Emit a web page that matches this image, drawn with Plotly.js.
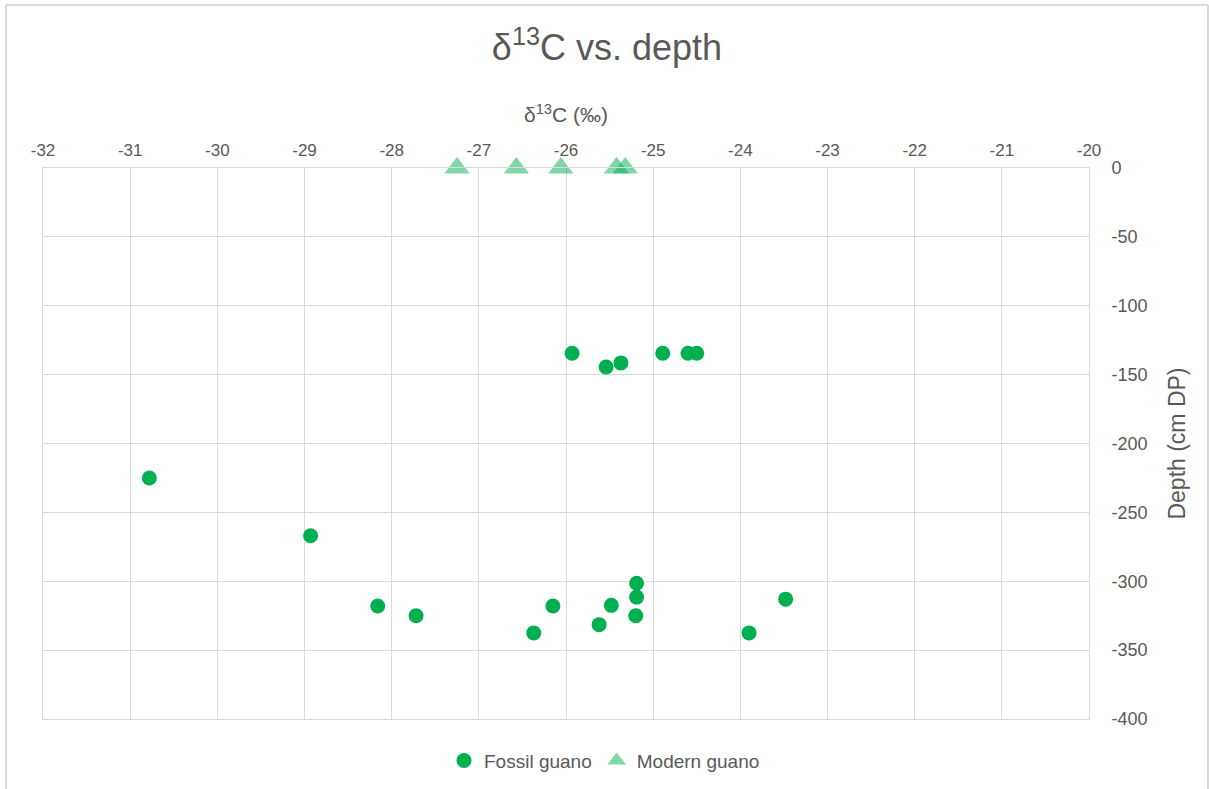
<!DOCTYPE html>
<html>
<head>
<meta charset="utf-8">
<script src="https://cdn.plot.ly/plotly-3.0.1.min.js"></script>
<style>html,body{margin:0;padding:0;background:#fff;}#chart{width:1209px;height:789px;}</style>
</head>
<body>
<div id="chart"></div>
<script>
const fossilD13C = [-30.78, -28.93, -28.16, -27.72, -26.37, -26.15, -25.93, -25.62, -25.54, -25.48, -25.37, -25.19, -25.19, -25.20, -24.89, -24.60, -24.50, -23.90, -23.48];
const fossilDepth = [-225, -267, -318, -325, -337.5, -318, -134.5, -331.5, -144.5, -317.5, -141.5, -301.5, -311.5, -325, -134.5, -134.5, -134.5, -337.5, -313];
const modernD13C = [-27.25, -26.57, -26.06, -25.42, -25.32];
const modernDepth = [0, 0, 0, 0, 0];
const xTicks = [-32, -31, -30, -29, -28, -27, -26, -25, -24, -23, -22, -21, -20];
const yTicks = [0, -50, -100, -150, -200, -250, -300, -350, -400];

const font = 'Helvetica, "Liberation Sans", Arial, sans-serif';
const traces = [
  {x: fossilD13C, y: fossilDepth, mode: 'markers', type: 'scatter', name: 'Fossil guano',
   marker: {symbol: 'circle', size: 15, color: '#00B050'}},
  {x: modernD13C, y: modernDepth, mode: 'markers', type: 'scatter', name: 'Modern guano',
   marker: {symbol: 'triangle-up', size: 22, color: 'rgba(0,176,80,0.5)'}, cliponaxis: false}
];
const layout = {
  width: 1209, height: 789,
  margin: {l: 43, r: 120, t: 168, b: 70, autoexpand: false},
  paper_bgcolor: '#fff', plot_bgcolor: '#fff',
  font: {family: font, color: '#595959'},
  title: {text: 'δ<sup>13</sup>C vs. depth', x: 0.502, xref: 'container', xanchor: 'center', y: 0.94, yanchor: 'middle', font: {size: 36, color: '#595959', family: font}},
  xaxis: {side: 'top', range: [-32, -20], tickvals: xTicks, ticktext: xTicks.map(String),
    showgrid: true, gridcolor: '#D9D9D9', gridwidth: 1, zeroline: false,
    showline: true, mirror: true, linecolor: '#D9D9D9', linewidth: 1,
    ticks: '', tickfont: {size: 17, color: '#595959'}, ticklabelstandoff: 4,
    title: {text: 'δ<sup>13</sup>C (‰)', font: {size: 21, color: '#595959'}, standoff: 12}},
  yaxis: {side: 'right', range: [-400, 0], tickvals: yTicks, ticktext: yTicks.map(String),
    showgrid: true, gridcolor: '#D9D9D9', gridwidth: 1, zeroline: false,
    showline: true, mirror: true, linecolor: '#D9D9D9', linewidth: 1,
    ticks: '', tickfont: {size: 18, color: '#595959'}, ticklabelstandoff: 18,
    title: {text: 'Depth (cm DP)', font: {size: 23, color: '#595959'}, standoff: 22}},
  showlegend: true,
  legend: {orientation: 'h', x: 0.50, xref: 'container', xanchor: 'center', y: 0.036, yref: 'container', yanchor: 'middle', font: {size: 19, color: '#595959'}, itemwidth: 30},
  shapes: [
    {type: 'line', xref: 'paper', yref: 'paper', x0: -0.0354, x1: -0.0354, y0: -0.2, y1: 1.2958, line: {color: '#D9D9D9', width: 2}},
    {type: 'line', xref: 'paper', yref: 'paper', x0: -0.0354, x1: 1.1138, y0: 1.2958, y1: 1.2958, line: {color: '#D9D9D9', width: 2}},
    {type: 'line', xref: 'paper', yref: 'paper', x0: 1.1138, x1: 1.1138, y0: -0.2, y1: 1.2958, line: {color: '#D9D9D9', width: 2}}
  ]
};
Plotly.newPlot('chart', traces, layout, {displayModeBar: false, staticPlot: true});
</script>
</body>
</html>
